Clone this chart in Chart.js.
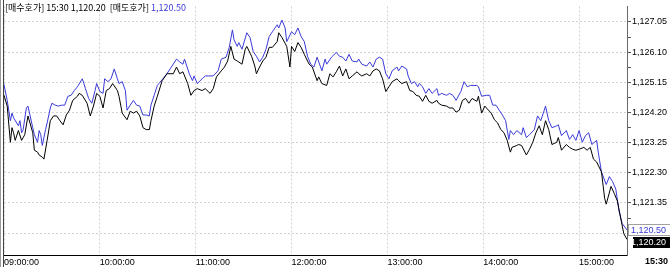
<!DOCTYPE html>
<html>
<head>
<meta charset="utf-8">
<script src="https://cdn.jsdelivr.net/npm/chart.js@4"></script>
<style>
html, body { margin: 0; padding: 0; background: #fff; }
#wrap { width: 670px; height: 267px; }
</style>
</head>
<body>
<div id="wrap"><canvas id="chart" width="670" height="267"></canvas></div>
<script>
// minutes after 09:00 and quotes
var askMinutes = [0,2,4,5,6,9,10,11,12,14,15,18,19,21,22,23,24,26,27,29,30,32,34,36,38,40,42,44,46,49,
  50,51,53,55,57,58,60,62,63,65,67,69,71,72,74,76,77,79,81,83,85,87,89,91,92,94,96,97,101,104,
  108,110,112,113,115,116,118,119,121,124,126,128,131,134,136,139,141,143,144,146,147,149,152,154,156,158,160,162,164,166,
  168,171,172,174,176,177,180,182,184,186,188,190,192,194,196,199,201,202,205,208,210,212,214,216,218,221,222,224,227,229,
  231,233,235,237,239,241,243,246,247,249,252,253,255,257,259,260,262,264,266,268,271,272,274,277,279,281,283,286,288,290,
  292,296,297,299,302,304,306,308,310,312,314,316,317,319,321,324,325,327,329,332,334,336,338,339,341,343,346,347,349,352,
  354,356,358,360,362,364,366,368,371,372,374,377,379,381,383,385,387,390];
var askPrices = [1125.08,1124.58,1123.94,1124.18,1124.03,1123.78,1123.94,1123.56,1123.66,1124.34,1124.40,1123.72,1123.50,1123.26,1123.63,1123.50,1123.16,1123.66,1123.87,1124.34,
  1124.49,1124.43,1124.40,1124.43,1124.43,1124.71,1124.74,1124.89,1125.01,1125.26,
  1125.11,1124.95,1124.64,1124.49,1124.89,1125.11,1124.86,1124.80,1125.26,1125.17,1125.26,1125.57,1125.26,1125.11,1125.17,1124.89,1124.27,1124.43,1124.58,1124.43,
  1124.40,1124.12,1124.12,1124.09,1124.43,1124.74,1125.05,1125.11,1125.35,1125.57,
  1125.88,1125.79,1125.72,1125.88,1125.57,1125.42,1125.20,1125.35,1125.11,1125.26,1125.35,1125.35,1125.35,1125.51,1125.88,1125.94,1126.25,1126.80,1126.49,1126.28,
  1126.40,1126.19,1126.71,1126.56,1126.12,1125.97,1125.79,1125.94,1126.19,1126.59,
  1126.74,1126.96,1126.86,1127.11,1126.86,1126.43,1126.74,1126.65,1126.86,1126.59,1126.43,1125.97,1125.72,1125.63,1125.94,1125.51,1125.88,1125.72,1125.94,1126.09,
  1125.97,1125.94,1125.82,1126.03,1125.82,1125.79,1125.88,1125.72,1125.66,1125.79,
  1125.63,1125.88,1125.94,1125.88,1125.42,1125.26,1125.51,1125.63,1125.51,1125.66,1125.57,1125.35,1125.11,1125.17,1125.01,1125.11,1125.01,1124.80,1124.95,1124.80,
  1124.95,1124.74,1124.80,1124.74,1124.80,1124.74,1124.58,1124.86,1125.17,1125.01,
  1125.05,1125.05,1125.01,1124.71,1124.74,1124.74,1124.43,1124.43,1124.27,1124.12,1123.94,1123.35,1123.63,1123.50,1123.63,1123.50,1123.72,1123.41,1123.50,1123.66,
  1124.09,1123.94,1124.24,1124.40,1123.94,1123.72,1123.78,1123.81,1123.47,1123.63,
  1123.35,1123.50,1123.32,1123.63,1123.26,1123.47,1123.56,1123.19,1123.32,1122.95,1122.33,1121.93,1122.18,1122.02,1121.78,1121.10,1120.70,1120.50];

var bidMinutes = [0,2,4,5,6,7,9,11,13,15,18,19,21,22,24,25,27,29,31,33,35,37,39,41,43,46,47,49,52,54,
  56,58,60,62,64,66,68,71,72,74,77,79,81,83,85,87,89,91,92,94,96,99,102,106,108,110,112,115,117,119,
  121,124,126,129,131,133,136,138,140,142,144,146,149,151,152,155,157,158,160,162,164,166,168,171,172,174,177,179,180,182,
  184,186,188,190,191,193,196,197,199,202,204,206,208,210,212,214,216,218,221,222,224,227,229,231,233,235,237,239,241,243,
  246,247,249,252,254,256,258,260,262,264,266,268,271,272,274,277,279,281,283,285,287,289,291,293,296,297,299,301,302,305,
  307,309,311,313,315,317,318,321,322,324,327,329,331,333,335,337,339,341,343,346,347,349,352,354,356,358,360,363,365,367,
  369,371,374,376,377,380,382,384,386,388,390];
var bidPrices = [1124.74,1124.40,1123.26,1123.72,1123.56,1123.32,1123.63,1123.32,1123.50,1124.09,1123.56,1123.01,1122.95,1122.86,1122.79,1122.73,1123.32,1123.94,1124.09,1124.09,
  1123.94,1123.81,1124.12,1124.27,1124.58,1124.71,1124.80,1124.74,1124.49,1124.09,
  1124.40,1124.80,1124.71,1124.34,1124.89,1124.95,1125.11,1124.89,1124.71,1124.18,1123.97,1124.24,1124.18,1124.24,1124.09,1123.72,1123.66,1123.66,1123.94,1124.40,
  1124.71,1125.20,1125.42,1125.42,1125.63,1125.42,1125.48,1125.11,1124.74,1124.89,
  1124.95,1124.89,1124.95,1124.80,1124.95,1125.32,1125.51,1125.63,1125.82,1126.28,1125.88,1125.82,1125.72,1126.19,1126.28,1125.97,1125.66,1125.42,1125.63,1125.82,
  1125.94,1126.25,1126.25,1126.43,1126.71,1126.56,1126.28,1125.63,1126.28,1126.12,
  1126.40,1126.25,1126.03,1125.82,1125.72,1125.63,1125.20,1125.32,1125.11,1125.05,1125.42,1125.32,1125.48,1125.66,1125.35,1125.57,1125.26,1125.35,1125.48,1125.42,
  1125.35,1125.42,1125.35,1125.51,1125.57,1125.51,1125.26,1124.86,1125.01,1125.17,
  1125.26,1125.20,1125.11,1125.17,1124.89,1124.86,1124.74,1124.71,1124.55,1124.74,1124.55,1124.49,1124.58,1124.49,1124.43,1124.40,1124.34,1124.34,1124.21,1124.27,
  1124.58,1124.64,1124.49,1124.64,1124.55,1124.71,1124.18,1124.40,1124.34,1124.18,
  1123.97,1123.87,1123.66,1123.56,1123.32,1122.95,1123.10,1123.16,1123.19,1123.16,1122.86,1123.04,1123.26,1123.56,1123.78,1123.50,1123.94,1123.66,1123.19,1123.26,
  1123.41,1123.01,1123.19,1123.10,1123.04,1123.01,1123.04,1123.10,1123.01,1123.10,
  1122.73,1122.64,1122.33,1121.50,1121.31,1121.87,1121.65,1121.41,1120.88,1120.38,1120.20];

var xTickMinutes = [0, 60, 120, 180, 240, 300, 360];
var xTickLabels = ['09:00:00', '10:00:00', '11:00:00', '12:00:00', '13:00:00', '14:00:00', '15:00:00'];
var yTickValues = [1120.40, 1121.35, 1122.30, 1123.25, 1124.20, 1125.15, 1126.10, 1127.05];
var yTickLabels = ['', '1,121.35', '1,122.30', '1,123.25', '1,124.20', '1,125.15', '1,126.10', '1,127.05'];
var lastTime = '15:30';
var bidName = '[매수호가]';
var askName = '[매도호가]';

var BLUE = '#3a3ad8';
var GRID = '#d2d2d2';
var axisFont = { family: 'Liberation Sans', size: 9 };

function fmt(v) {
    return v.toLocaleString('en-US', { minimumFractionDigits: 2, maximumFractionDigits: 2 });
}

var lastBid = bidPrices[bidPrices.length - 1];
var lastAsk = askPrices[askPrices.length - 1];

// header, left frame, last price boxes
var decorations = {
    id: 'decorations',
    afterDraw: function(chart) {
        var ctx = chart.ctx;
        var y = chart.scales.y;
        var area = chart.chartArea;
        ctx.save();

        // left frame
        ctx.lineWidth = 1;
        ctx.strokeStyle = '#9a9a9a';
        ctx.beginPath(); ctx.moveTo(0.5, 0); ctx.lineTo(0.5, 267); ctx.stroke();
        ctx.strokeStyle = '#404040';
        ctx.beginPath(); ctx.moveTo(3.5, 0); ctx.lineTo(3.5, 267); ctx.stroke();

        // header line
        ctx.font = '9px "Noto Sans CJK KR"';
        ctx.textBaseline = 'middle';
        ctx.textAlign = 'left';
        var hx = 5, hy = 8;
        var parts = [
            [bidName + ' ' + lastTime + ' ' + fmt(lastBid) + '  ' + askName + ' ', '#000'],
            [fmt(lastAsk), BLUE]
        ];
        parts.forEach(function(p) {
            ctx.fillStyle = p[1];
            ctx.fillText(p[0], hx, hy);
            hx += ctx.measureText(p[0]).width;
        });

        // last price boxes on the right axis
        ctx.font = '9px "Liberation Sans"';
        ctx.textAlign = 'right';
        var ya = Math.round(y.getPixelForValue(lastAsk));
        ctx.fillStyle = '#fff';
        ctx.fillRect(area.right + 1, ya - 6, 670 - area.right - 1, 12);
        ctx.strokeStyle = '#a0a0a0';
        ctx.strokeRect(area.right + 1.5, ya - 5.5, 670 - area.right - 1, 11);
        ctx.fillStyle = BLUE;
        ctx.fillText(fmt(lastAsk), 666, ya + 0.5);

        var yb = Math.max(Math.round(y.getPixelForValue(lastBid)) - 5, ya + 7);
        ctx.fillStyle = '#000';
        ctx.fillRect(633, yb, 37, 11);
        ctx.fillStyle = '#fff';
        ctx.fillText(fmt(lastBid), 666, yb + 6);

        // closing time under the right axis
        ctx.fillStyle = '#000';
        ctx.font = 'bold 9px "Liberation Sans"';
        ctx.fillText(lastTime, 668, 262);
        ctx.restore();
    }
};

var ctx = document.getElementById('chart').getContext('2d');
var chart = new Chart(ctx, {
    type: 'line',
    data: {
        datasets: [
            {
                label: bidName,
                data: bidMinutes.map(function(m, i) { return { x: m, y: bidPrices[i] }; }),
                borderColor: '#000',
                borderWidth: 1,
                pointRadius: 0,
                tension: 0,
                fill: false
            },
            {
                label: askName,
                data: askMinutes.map(function(m, i) { return { x: m, y: askPrices[i] }; }),
                borderColor: BLUE,
                borderWidth: 1,
                pointRadius: 0,
                tension: 0,
                fill: false
            }
        ]
    },
    options: {
        responsive: false,
        devicePixelRatio: 1,
        animation: false,
        layout: { padding: { left: 4, top: 1, right: 0, bottom: 0 } },
        plugins: {
            legend: { display: false },
            tooltip: { enabled: false }
        },
        scales: {
            x: {
                type: 'linear',
                position: 'bottom',
                min: 0,
                max: 390,
                afterBuildTicks: function(s) {
                    s.ticks = xTickMinutes.map(function(v) { return { value: v }; });
                },
                afterFit: function(s) { s.height = 12; },
                ticks: {
                    autoSkip: false,
                    maxRotation: 0,
                    align: 'start',
                    padding: 2,
                    color: '#000',
                    font: axisFont,
                    callback: function(v, i) { return xTickLabels[i]; }
                },
                grid: { color: GRID, lineWidth: 1, drawTicks: false },
                border: { display: true, color: '#000', width: 1, dash: [2, 2] }
            },
            y: {
                type: 'linear',
                position: 'right',
                min: 1119.71,
                max: 1127.54,
                afterBuildTicks: function(s) {
                    var t = [];
                    yTickValues.forEach(function(v, i) {
                        t.push({ value: v, label: yTickLabels[i] });
                        if (i < yTickValues.length - 1) {
                            t.push({ value: (v + yTickValues[i + 1]) / 2, minor: true });
                        }
                    });
                    s.ticks = t;
                },
                afterFit: function(s) { s.width = 43; },
                ticks: {
                    autoSkip: false,
                    padding: 1,
                    color: '#000',
                    font: axisFont,
                    callback: function(v, i, ticks) {
                        return ticks[i].minor ? '' : ticks[i].label;
                    }
                },
                grid: {
                    color: function(c) { return c.tick && c.tick.minor ? 'rgba(0,0,0,0)' : GRID; },
                    lineWidth: 1,
                    drawTicks: true,
                    tickLength: 4,
                    tickColor: '#555'
                },
                border: { display: true, color: '#6a6a6a', width: 1, dash: [2, 2] }
            }
        }
    },
    plugins: [decorations]
});
</script>
</body>
</html>
